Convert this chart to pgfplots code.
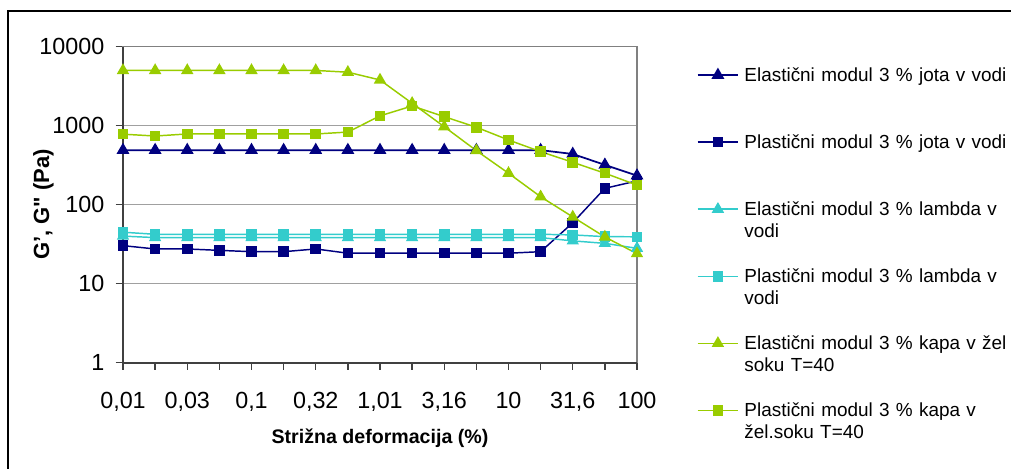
\documentclass[border=0pt]{standalone}
\usepackage{fontspec}
\setmainfont{Liberation Sans}
\usepackage{pgfplots}
\pgfplotsset{compat=1.18}
\usepackage{pgfplotstable}
\definecolor{cnavy}{HTML}{000080}
\definecolor{ccyan}{HTML}{33CCCC}
\definecolor{cgreen}{HTML}{99CC00}
\definecolor{caxis}{HTML}{404040}
\definecolor{cgrid}{HTML}{A0A0A0}

\pgfplotstableread{
k  EJ   PJ    EL    PL    EK    PK
0  490  30.3  40.0  44.8  5000  780
1  490  27.5  38.3  42.2  5000  740
2  490  27.5  38.3  42.2  5000  785
3  490  26.4  38.3  42.2  5000  785
4  490  25.4  38.3  42.2  5000  785
5  490  25.4  38.3  42.2  5000  785
6  490  27.5  38.3  42.2  5000  785
7  490  24.3  38.3  42.2  4750  830
8  490  24.3  38.3  42.2  3790  1330
9  490  24.3  38.3  42.2  1920  1775
10 490  24.3  38.3  42.2  970   1300
11 490  24.3  38.3  42.2  483   955
12 490  24.3  38.3  42.2  250   659
13 490  25.4  38.3  42.2  126   469
14 438  59    34.8  41.4  70    344
15 319  161   32.4  39.4  39    250
16 233  200   28.0  39.2  24    177
}\datatable

\begin{document}
\begin{tikzpicture}
\begin{axis}[
  at={(0,0)}, anchor=south west,
  scale only axis,
  width=385.5pt, height=237pt,
  ymode=log, ymin=1, ymax=10000,
  xmin=0, xmax=16,
  xtick={0,...,16},
  xticklabels={{0,01},{},{0,03},{},{0,1},{},{0,32},{},{1,01},{},{3,16},{},{10},{},{31,6},{},{100}},
  ytick={1,10,100,1000,10000},
  yticklabels={1,10,100,1000,10000},
  log basis y=10,
  xtick pos=left, ytick pos=left,
  tick align=outside,
  major tick length=5.5pt,
  tick style={color=caxis, line width=1pt},
  minor tick num=0,
  ymajorgrids,
  grid style={color=cgrid, line width=0.9pt},
  axis line style={color=gray, line width=0.9pt},
  ticklabel style={font=\fontsize{17.5}{20}\selectfont},
  xticklabel style={anchor=north, yshift=-13pt},
  yticklabel style={anchor=east, xshift=-5pt},
  xlabel={Strižna deformacija (\%)},
  xlabel style={font=\bfseries\fontsize{14.7}{17}\selectfont, at={(axis description cs:0.5,-0.2384)}, anchor=center},
  ylabel={G’, G\textquotedbl{} (Pa)},
  ylabel style={font=\bfseries\fontsize{16.5}{19}\selectfont, at={(axis description cs:-0.155,0.5)}, anchor=center, rotate=0},
  legend image code/.code={\draw[mark repeat=2,mark phase=2,#1] plot coordinates {(0pt,4.9pt) (15.25pt,4.9pt) (30.5pt,4.9pt)};},
  legend cell align=left,
  legend style={at={(1.1162,0.9316)}, anchor=north west, draw=none, fill=none,
    inner sep=0pt, outer sep=0pt, row sep=0pt, column sep=4pt,
    cells={anchor=base west},
    nodes={inner sep=0pt, outer sep=0pt, text width=260pt, align=left, text height=10pt, text depth=40.3pt,
      font=\fontsize{14.2}{16.5}\selectfont}},
  clip=false,
]
\addplot[color=cnavy, line width=1.3pt, mark=triangle*, mark size=4.3pt, mark options={fill=cnavy, draw=cnavy}] table[x=k, y=EJ] {\datatable};
\addlegendentry{Elastični modul 3 \% jota v vodi}
\addplot[color=cnavy, line width=1.1pt, mark=square*, mark size=3.4pt, mark options={fill=cnavy, draw=cnavy}] table[x=k, y=PJ] {\datatable};
\addlegendentry{Plastični modul 3 \% jota v vodi}
\addplot[color=ccyan, line width=1.1pt, mark=triangle*, mark size=4.3pt, mark options={fill=ccyan, draw=ccyan}] table[x=k, y=EL] {\datatable};
\addlegendentry{Elastični modul 3 \% lambda v\\vodi}
\addplot[color=ccyan, line width=1.1pt, mark=square*, mark size=3.4pt, mark options={fill=ccyan, draw=ccyan}] table[x=k, y=PL] {\datatable};
\addlegendentry{Plastični modul 3 \% lambda v\\vodi}
\addplot[color=cgreen, line width=1.1pt, mark=triangle*, mark size=4.3pt, mark options={fill=cgreen, draw=cgreen}] table[x=k, y=EK] {\datatable};
\addlegendentry{Elastični modul 3 \% kapa v žel\\soku T=40}
\addplot[color=cgreen, line width=1.1pt, mark=square*, mark size=3.4pt, mark options={fill=cgreen, draw=cgreen}] table[x=k, y=PK] {\datatable};
\addlegendentry{Plastični modul 3 \% kapa v\\žel.soku T=40}
\draw[color=caxis, line width=1.5pt] (rel axis cs:0,1) -- (rel axis cs:0,0) -- (rel axis cs:1,0);
\end{axis}
\draw[black, line width=1.1pt] (-86.25pt,263.8pt) rectangle (720pt,-110pt);
\pgfresetboundingbox
\path[use as bounding box] (-92.25pt,272pt) rectangle (666pt,-79pt);
\end{tikzpicture}
\end{document}
